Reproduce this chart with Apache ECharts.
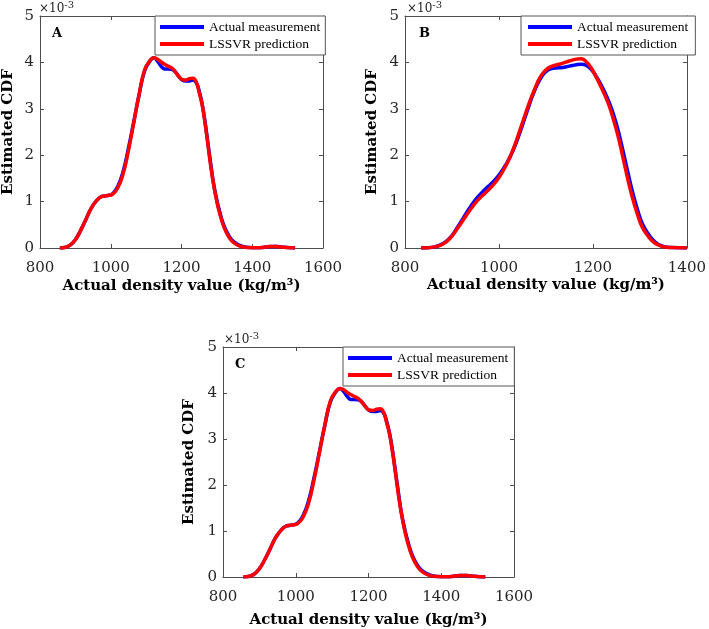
<!DOCTYPE html>
<html><head><meta charset="utf-8">
<script src="https://cdn.jsdelivr.net/npm/echarts@6/dist/echarts.min.js"></script>
<style>html,body{margin:0;padding:0;background:#fff}#c{width:709px;height:629px}</style>
</head><body><div id="c"></div>
<script>
// Panel A (and C) : x values (kg/m3) and estimated values (x10^-3)
var xA = [856,870,885,900,915,930,945,960,975,990,1005,1020,1035,1050,1065,1080,1095,1110,1122,1132,1142,1152,1162,1172,1182,1192,1202,1212,1222,1232,1242,1250,1258,1266,1274,1282,1290,1298,1306,1320,1335,1350,1370,1390,1410,1430,1450,1470,1490,1521];
var actualA = [0,0.01,0.06,0.18,0.38,0.62,0.86,1.02,1.11,1.13,1.17,1.33,1.65,2.15,2.72,3.3,3.8,4.02,4.1,4.03,3.92,3.86,3.86,3.85,3.8,3.7,3.62,3.6,3.6,3.62,3.56,3.38,3.12,2.75,2.3,1.85,1.42,1.1,0.84,0.48,0.25,0.12,0.04,0.01,0.005,0.01,0.03,0.03,0.015,0];
var predA   = [0,0.01,0.06,0.18,0.38,0.62,0.86,1.02,1.11,1.13,1.16,1.3,1.6,2.1,2.7,3.3,3.82,4.03,4.1,4.07,4.01,3.96,3.92,3.88,3.8,3.7,3.63,3.62,3.65,3.66,3.57,3.35,3.1,2.72,2.27,1.8,1.4,1.07,0.8,0.45,0.22,0.1,0.03,0.01,0.005,0.01,0.03,0.03,0.015,0];
// Panel B
var xB = [834,850,865,880,895,910,925,940,955,970,985,1000,1015,1030,1045,1060,1075,1090,1105,1120,1135,1150,1165,1175,1185,1195,1205,1215,1225,1235,1245,1255,1265,1275,1285,1295,1305,1318,1330,1345,1365,1400];
var actualB = [0,0.005,0.03,0.09,0.21,0.42,0.66,0.9,1.1,1.26,1.4,1.57,1.8,2.1,2.5,2.95,3.37,3.68,3.84,3.88,3.89,3.92,3.95,3.96,3.94,3.86,3.73,3.56,3.36,3.13,2.84,2.48,2.05,1.6,1.18,0.82,0.53,0.3,0.15,0.05,0.01,0];
var predB   = [0,0.005,0.03,0.08,0.2,0.4,0.62,0.84,1.03,1.18,1.33,1.52,1.78,2.12,2.55,3.0,3.4,3.72,3.88,3.94,3.98,4.03,4.07,4.08,4.02,3.9,3.72,3.52,3.3,3.05,2.72,2.35,1.9,1.45,1.05,0.72,0.45,0.25,0.12,0.04,0.01,0];
// Panel C
var xC = xA, actualC = actualA, predC = predA;

var xRanges = [[800,1600],[800,1400],[800,1600]];
var yTicks = [0,1,2,3,4,5];
var panelLabels = ['A','B','C'];
var seriesNames = ['Actual measurement','LSSVR prediction'];
var xTitle = 'Actual density value (kg/m\u00b3)';
var yTitle = 'Estimated CDF';

function pairs(xs, ys){ return xs.map(function(x,i){return [x, ys[i]];}); }

var grids = [
  {left:37, top:16, width:286, height:232},
  {left:405, top:16, width:292, height:232},
  {left:223, top:347, width:291, height:231}
];
var xNameGaps = [31, 30, 36];
var yNameGaps = [24, 25, 26];
var axisColor = '#4d4d4d';
var textColor = '#262626';
var xAxes = [], yAxes = [], series = [], legends = [], titles = [];
var dataSets = [[xA,actualA,predA],[xB,actualB,predB],[xC,actualC,predC]];
var legendCfg = [
  {left:155, top:16, pad:[4,5,4,5], tw:109},
  {left:521, top:16, pad:[4,7,4,7], tw:111},
  {left:343, top:347, pad:[4,6,4,5], tw:111}
];
var labelPos = [[52,27],[419,27],[235,358]];
var expPos = [[39,0],[407,0],[224,331]];

for (var g=0; g<3; g++){
  var base = {gridIndex:g, type:'value', min:xRanges[g][0], max:xRanges[g][1], interval:200,
    splitLine:{show:false}, axisLine:{show:true, onZero:false, lineStyle:{color:axisColor, width:1}},
    axisTick:{show:true, inside:true, length:4, lineStyle:{color:axisColor}}};
  xAxes.push(Object.assign({}, base, {position:'bottom',
    axisLabel:{color:textColor, fontFamily:'DejaVu Serif', fontSize:15, margin:13,
      formatter:function(v){return String(v);}},
    name:xTitle, nameLocation:'middle', nameGap:xNameGaps[g],
    nameTextStyle:{fontFamily:'DejaVu Serif', fontWeight:'bold', fontSize:15, color:'#000'}}));
  xAxes.push(Object.assign({}, base, {position:'top', axisLabel:{show:false}}));
  var ybase = {gridIndex:g, type:'value', min:0, max:5, interval:1,
    splitLine:{show:false}, axisLine:{show:true, onZero:false, lineStyle:{color:axisColor, width:1}},
    axisTick:{show:true, inside:true, length:4, lineStyle:{color:axisColor}}};
  yAxes.push(Object.assign({}, ybase, {position:'left',
    axisLabel:{color:textColor, fontFamily:'DejaVu Serif', fontSize:15, margin:6,
      formatter:function(v){return yTicks.indexOf(v)>=0 ? String(v) : '';}},
    name:yTitle, nameLocation:'middle', nameGap:yNameGaps[g],
    nameTextStyle:{fontFamily:'DejaVu Serif', fontWeight:'bold', fontSize:15, color:'#000'}}));
  yAxes.push(Object.assign({}, ybase, {position:'right', axisLabel:{show:false}}));

  var d = dataSets[g];
  series.push({name:seriesNames[0], type:'line', xAxisIndex:2*g, yAxisIndex:2*g,
    data:pairs(d[0], d[1]), smooth:0.5, showSymbol:false,
    lineStyle:{color:'#0000ff', width:3.5}, itemStyle:{color:'#0000ff'}, z:2});
  series.push({name:seriesNames[1], type:'line', xAxisIndex:2*g, yAxisIndex:2*g,
    data:pairs(d[0], d[2]), smooth:0.5, showSymbol:false,
    lineStyle:{color:'#ff0000', width:3.5}, itemStyle:{color:'#ff0000'}, z:3});

  var lc = legendCfg[g];
  legends.push({data:seriesNames, orient:'vertical', left:lc.left, top:lc.top,
    padding:lc.pad, itemGap:3, itemWidth:44, itemHeight:4, icon:'rect',
    borderColor:'#555', borderWidth:1, backgroundColor:'#fff', selectedMode:false,
    textStyle:{fontFamily:'Liberation Serif', fontSize:13.5, color:'#000', lineHeight:14, width:lc.tw}});

  titles.push({text:panelLabels[g], left:labelPos[g][0], top:labelPos[g][1], padding:0,
    textStyle:{fontFamily:'DejaVu Serif', fontWeight:'bold', fontSize:13, color:'#000'}});
  titles.push({text:'\u00d710{s|-3}', left:expPos[g][0], top:expPos[g][1], padding:0,
    textStyle:{fontFamily:'DejaVu Serif', fontWeight:'normal', fontSize:12, color:textColor, lineHeight:18,
      rich:{s:{fontFamily:'DejaVu Serif', fontSize:10, color:textColor, verticalAlign:'top', lineHeight:10, padding:[0,0,8,0]}}}});
}

var chart = echarts.init(document.getElementById('c'), null, {renderer:'canvas'});
chart.setOption({
  backgroundColor:'#fff', animation:false,
  title:titles, legend:legends, grid:grids, xAxis:xAxes, yAxis:yAxes, series:series
});
</script></body></html>
